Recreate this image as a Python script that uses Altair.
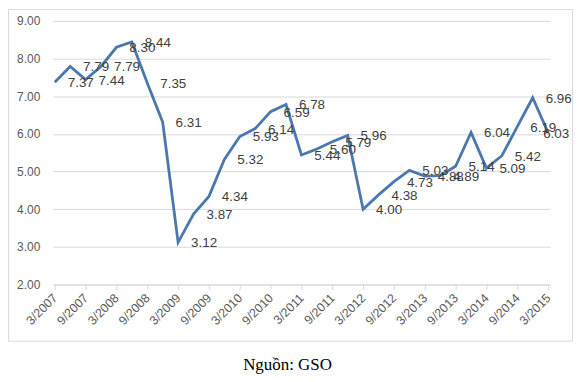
import altair as alt
import pandas as pd

periods = [
    "3/2007", "6/2007", "9/2007", "12/2007",
    "3/2008", "6/2008", "9/2008", "12/2008",
    "3/2009", "6/2009", "9/2009", "12/2009",
    "3/2010", "6/2010", "9/2010", "12/2010",
    "3/2011", "6/2011", "9/2011", "12/2011",
    "3/2012", "6/2012", "9/2012", "12/2012",
    "3/2013", "6/2013", "9/2013", "12/2013",
    "3/2014", "6/2014", "9/2014", "12/2014",
    "3/2015",
]
values = [
    7.37, 7.79, 7.44, 7.79,
    8.30, 8.44, 7.35, 6.31,
    3.12, 3.87, 4.34, 5.32,
    5.93, 6.14, 6.59, 6.78,
    5.44, 5.60, 5.79, 5.96,
    4.00, 4.38, 4.73, 5.03,
    4.88, 4.89, 5.14, 6.04,
    5.09, 5.42, 6.19, 6.96,
    6.03,
]
tick_labels = periods[::2]
y_ticks = [2, 3, 4, 5, 6, 7, 8, 9]
caption = "Nguồn: GSO"
last_period = periods[-1]

df = pd.DataFrame({"period": periods, "value": values})

x_enc = alt.X(
    "period:O",
    sort=periods,
    scale=alt.Scale(type="point", padding=0.13),
    axis=alt.Axis(
        title="",
        values=tick_labels,
        labelAngle=-45,
        labelAlign="right",
        labelBaseline="middle",
        labelPadding=6,
        labelFontSize=12.5,
        labelFont="Liberation Sans",
        labelColor="#595959",
        domainColor="#d9d9d9",
        tickColor="#d9d9d9",
        tickSize=5,
        grid=False,
    ),
)
y_enc = alt.Y(
    "value:Q",
    scale=alt.Scale(domain=[2, 9], nice=False, zero=False),
    axis=alt.Axis(
        title="",
        values=y_ticks,
        format=".2f",
        grid=True,
        gridColor="#d9d9d9",
        domain=False,
        ticks=False,
        labelPadding=13,
        labelFontSize=12,
        labelFont="Liberation Sans",
        labelColor="#595959",
    ),
)

base = alt.Chart(df)

line = base.mark_line(color="#4a78ae", strokeWidth=2.8).encode(x=x_enc, y=y_enc)

text_style = dict(align="left", baseline="middle", dy=1,
                  fontSize=13.5, font="Liberation Sans", color="#404040")

labels = base.transform_filter(
    alt.datum.period != last_period
).mark_text(dx=13, **text_style).encode(
    x=x_enc, y=y_enc, text=alt.Text("value:Q", format=".2f")
)

last_label = base.transform_filter(
    alt.datum.period == last_period
).mark_text(dx=-5, **text_style).encode(
    x=x_enc, y=y_enc, text=alt.Text("value:Q", format=".2f")
)

one = alt.Data(values=[{"t": caption}])

frame = alt.Chart(one).mark_rect(filled=False, stroke="#d9d9d9", strokeWidth=1).encode(
    x=alt.value(-44.5), x2=alt.value(522.5), y=alt.value(-11.5), y2=alt.value(322)
)

cap = alt.Chart(one).mark_text(
    align="center", baseline="alphabetic", fontSize=17,
    font="Liberation Serif", color="#000000",
).encode(x=alt.value(236), y=alt.value(351), text="t:N")

chart = (
    alt.layer(frame, line, labels, last_label, cap)
    .properties(
        width=500,
        height=265,
        padding={"left": 45, "top": 12, "right": 23, "bottom": 89},
        autosize=alt.AutoSizeParams(type="none"),
    )
    .configure_view(strokeWidth=0)
)

chart.save("out.html", embed_options={"renderer": "svg", "actions": False})
